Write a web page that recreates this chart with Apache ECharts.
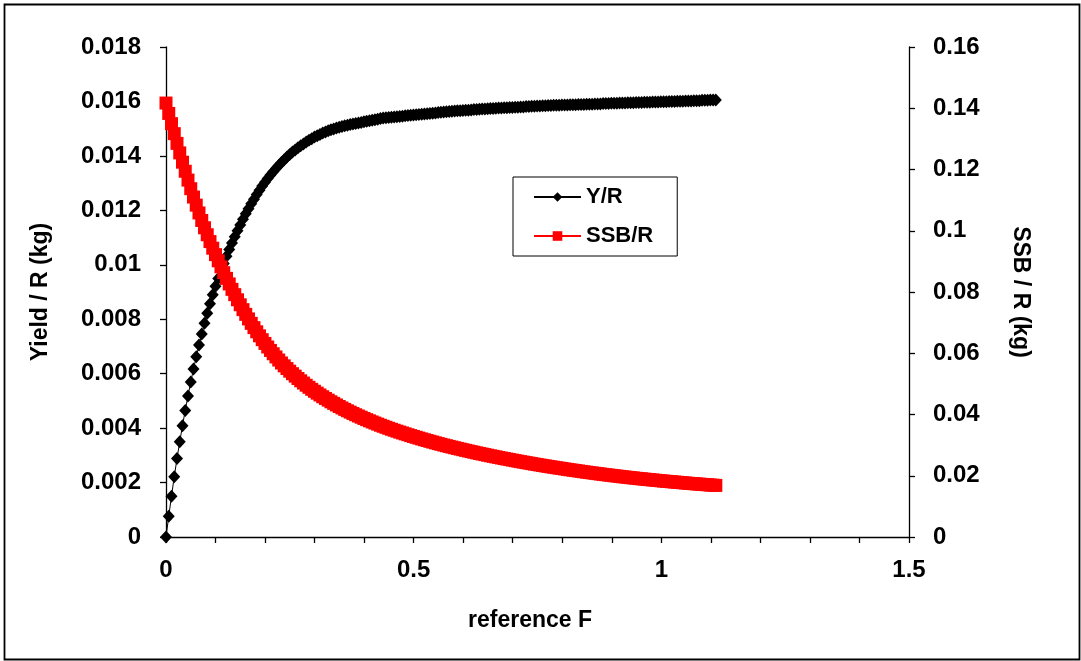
<!DOCTYPE html>
<html>
<head>
<meta charset="utf-8">
<script src="https://cdn.jsdelivr.net/npm/echarts@6/dist/echarts.min.js"></script>
<style>
html,body{margin:0;padding:0;background:#fff;}
#chart{width:1081px;height:661px;}
</style>
</head>
<body>
<div id="chart"></div>
<script>
// reference F values (x)
const refF = [0,0.00555,0.0111,0.01665,0.0222,0.02775,0.0333,0.03885,0.0444,0.04995,0.0555,0.06105,0.0666,0.07215,0.0777,0.08325,0.0888,0.09435,0.0999,0.10545,0.111,0.11655,0.1221,0.12765,0.1332,0.13875,0.1443,0.14985,0.1554,0.16095,0.1665,0.17205,0.1776,0.18315,0.1887,0.19425,0.1998,0.20535,0.2109,0.21645,0.222,0.22755,0.2331,0.23865,0.2442,0.24975,0.2553,0.26085,0.2664,0.27195,0.2775,0.28305,0.2886,0.29415,0.2997,0.30525,0.3108,0.31635,0.3219,0.32745,0.333,0.33855,0.3441,0.34965,0.3552,0.36075,0.3663,0.37185,0.3774,0.38295,0.3885,0.39405,0.3996,0.40515,0.4107,0.41625,0.4218,0.42735,0.4329,0.43845,0.444,0.44955,0.4551,0.46065,0.4662,0.47175,0.4773,0.48285,0.4884,0.49395,0.4995,0.50505,0.5106,0.51615,0.5217,0.52725,0.5328,0.53835,0.5439,0.54945,0.555,0.56055,0.5661,0.57165,0.5772,0.58275,0.5883,0.59385,0.5994,0.60495,0.6105,0.61605,0.6216,0.62715,0.6327,0.63825,0.6438,0.64935,0.6549,0.66045,0.666,0.67155,0.6771,0.68265,0.6882,0.69375,0.6993,0.70485,0.7104,0.71595,0.7215,0.72705,0.7326,0.73815,0.7437,0.74925,0.7548,0.76035,0.7659,0.77145,0.777,0.78255,0.7881,0.79365,0.7992,0.80475,0.8103,0.81585,0.8214,0.82695,0.8325,0.83805,0.8436,0.84915,0.8547,0.86025,0.8658,0.87135,0.8769,0.88245,0.888,0.89355,0.8991,0.90465,0.9102,0.91575,0.9213,0.92685,0.9324,0.93795,0.9435,0.94905,0.9546,0.96015,0.9657,0.97125,0.9768,0.98235,0.9879,0.99345,0.999,1.00455,1.0101,1.01565,1.0212,1.02675,1.0323,1.03785,1.0434,1.04895,1.0545,1.06005,1.0656,1.07115,1.0767,1.08225,1.0878,1.09335,1.0989,1.10445,1.11];

// Yield per recruit (kg)
const yieldR = [0,0.00076,0.00150,0.00221,0.00288,0.00350,0.00409,0.00465,0.00518,0.00569,0.00617,0.00662,0.00705,0.00746,0.00785,0.00822,0.00857,0.00890,0.00921,0.00950,0.00978,0.01005,0.01031,0.01056,0.01080,0.01103,0.01125,0.01146,0.01167,0.01187,0.01206,0.01224,0.01241,0.01258,0.01274,0.01289,0.01303,0.01317,0.01330,0.01342,0.01354,0.01365,0.01376,0.01386,0.01396,0.01405,0.01414,0.01422,0.01430,0.01437,0.01444,0.01451,0.01457,0.01463,0.01469,0.01474,0.01479,0.01484,0.01488,0.01492,0.01496,0.01499,0.01502,0.01505,0.01508,0.01511,0.01513,0.01515,0.01517,0.01519,0.01521,0.01523,0.01525,0.01527,0.01529,0.01531,0.01533,0.01535,0.01537,0.01539,0.01540,0.01541,0.01542,0.01543,0.01544,0.01545,0.01546,0.01547,0.01548,0.01549,0.01550,0.01551,0.01552,0.01553,0.01554,0.01555,0.01556,0.01557,0.01558,0.01559,0.01560,0.01561,0.01562,0.01563,0.01564,0.01565,0.01566,0.01566,0.01567,0.01568,0.01568,0.01569,0.01570,0.01570,0.01571,0.01572,0.01572,0.01573,0.01574,0.01574,0.01575,0.01576,0.01576,0.01577,0.01577,0.01578,0.01578,0.01579,0.01579,0.01580,0.01580,0.01581,0.01581,0.01582,0.01582,0.01583,0.01583,0.01584,0.01584,0.01585,0.01585,0.01586,0.01586,0.01586,0.01587,0.01587,0.01587,0.01588,0.01588,0.01588,0.01589,0.01589,0.01589,0.01590,0.01590,0.01590,0.01591,0.01591,0.01591,0.01592,0.01592,0.01592,0.01593,0.01593,0.01593,0.01594,0.01594,0.01594,0.01595,0.01595,0.01595,0.01596,0.01596,0.01596,0.01597,0.01597,0.01597,0.01598,0.01598,0.01598,0.01599,0.01599,0.01599,0.01600,0.01600,0.01600,0.01601,0.01601,0.01601,0.01602,0.01602,0.01602,0.01603,0.01603,0.01603,0.01604,0.01604,0.01604,0.01605,0.01605,0.01605];

// Spawning stock biomass per recruit (kg)
const ssbR = [0.14170,0.13830,0.13497,0.13171,0.12853,0.12542,0.12239,0.11943,0.11654,0.11373,0.11100,0.10836,0.10581,0.10335,0.10098,0.09869,0.09646,0.09430,0.09221,0.09018,0.08822,0.08631,0.08445,0.08263,0.08086,0.07914,0.07746,0.07583,0.07424,0.07270,0.07121,0.06976,0.06836,0.06700,0.06569,0.06443,0.06321,0.06204,0.06092,0.05984,0.05880,0.05779,0.05682,0.05589,0.05500,0.05415,0.05333,0.05253,0.05175,0.05100,0.05027,0.04956,0.04888,0.04822,0.04758,0.04697,0.04638,0.04580,0.04524,0.04469,0.04415,0.04363,0.04312,0.04262,0.04214,0.04167,0.04121,0.04077,0.04034,0.03992,0.03951,0.03911,0.03871,0.03832,0.03794,0.03757,0.03721,0.03685,0.03650,0.03616,0.03583,0.03550,0.03518,0.03487,0.03456,0.03426,0.03397,0.03368,0.03339,0.03311,0.03283,0.03256,0.03229,0.03202,0.03176,0.03150,0.03125,0.03100,0.03075,0.03051,0.03027,0.03004,0.02981,0.02958,0.02936,0.02914,0.02892,0.02871,0.02850,0.02829,0.02808,0.02788,0.02768,0.02748,0.02728,0.02709,0.02690,0.02671,0.02652,0.02634,0.02616,0.02598,0.02580,0.02562,0.02545,0.02528,0.02511,0.02494,0.02477,0.02461,0.02445,0.02429,0.02413,0.02397,0.02381,0.02366,0.02351,0.02336,0.02321,0.02306,0.02292,0.02278,0.02264,0.02250,0.02236,0.02222,0.02208,0.02195,0.02182,0.02169,0.02156,0.02143,0.02130,0.02117,0.02105,0.02093,0.02081,0.02069,0.02057,0.02045,0.02034,0.02023,0.02012,0.02001,0.01990,0.01979,0.01968,0.01958,0.01948,0.01938,0.01928,0.01918,0.01908,0.01899,0.01890,0.01881,0.01872,0.01863,0.01854,0.01845,0.01836,0.01827,0.01819,0.01811,0.01803,0.01795,0.01787,0.01779,0.01771,0.01763,0.01755,0.01747,0.01740,0.01733,0.01726,0.01719,0.01712,0.01705,0.01698,0.01691,0.01684];

const seriesNames = ['Y/R', 'SSB/R'];
const axisNames = { x: 'reference F', yLeft: 'Yield / R (kg)', yRight: 'SSB / R (kg)' };

const FONT = '"Liberation Sans", Arial, sans-serif';
const yData = refF.map((f, i) => [f, yieldR[i]]);
const sData = refF.map((f, i) => [f, ssbR[i]]);

const chart = echarts.init(document.getElementById('chart'), null, { renderer: 'canvas' });
const lbl = { color: '#000', fontFamily: FONT, fontWeight: 'bold', fontSize: 24 };
const nameStyle = { color: '#000', fontFamily: FONT, fontWeight: 'bold', fontSize: 23 };
const axLine = { show: true, lineStyle: { color: '#000', width: 1.3 } };
const tick = { show: true, inside: false, length: 6, lineStyle: { color: '#000', width: 1.3 } };

chart.setOption({
  animation: false,
  backgroundColor: '#fff',
  graphic: [{
    type: 'rect', left: 2, top: 2, z: 100, silent: true,
    shape: { width: 1075, height: 655 },
    style: { fill: 'none', stroke: '#000', lineWidth: 1.8 }
  }],
  grid: { left: 166, right: 172, top: 47, bottom: 124, containLabel: false },
  legend: {
    orient: 'vertical', left: 513, top: 177,
    borderColor: '#000', borderWidth: 1,
    padding: [9, 24, 9, 20], itemGap: 17,
    itemWidth: 47, itemHeight: 12, itemTextGap: 6,
    textStyle: { color: '#000', fontFamily: FONT, fontWeight: 'bold', fontSize: 22 },
    data: seriesNames
  },
  xAxis: {
    type: 'value', min: 0, max: 1.5, interval: 0.5,
    name: axisNames.x, nameLocation: 'middle', nameGap: 72,
    nameTextStyle: Object.assign({ padding: [0, 15, 0, 0] }, nameStyle),
    axisLine: axLine, axisTick: tick,
    minorTick: { show: true, splitNumber: 5, length: 6, lineStyle: { color: '#000', width: 1.3 } },
    splitLine: { show: false },
    axisLabel: Object.assign({ margin: 21 }, lbl)
  },
  yAxis: [{
    type: 'value', min: 0, max: 0.018, interval: 0.002, position: 'left',
    name: axisNames.yLeft, nameLocation: 'middle', nameGap: 114, nameRotate: 90,
    nameTextStyle: nameStyle,
    axisLine: axLine, axisTick: tick, splitLine: { show: false },
    axisLabel: Object.assign({ margin: 25 }, lbl)
  }, {
    type: 'value', min: 0, max: 0.16, interval: 0.02, position: 'right',
    name: axisNames.yRight, nameLocation: 'middle', nameGap: 100, nameRotate: -90,
    nameTextStyle: nameStyle,
    axisLine: axLine, axisTick: tick, splitLine: { show: false },
    axisLabel: Object.assign({ margin: 24 }, lbl)
  }],
  series: [{
    name: seriesNames[0], type: 'line', yAxisIndex: 0, data: yData,
    symbol: 'diamond', symbolSize: [12, 13], showAllSymbol: true,
    lineStyle: { color: '#000', width: 1 },
    itemStyle: { color: '#000', borderWidth: 0 },
    z: 2
  }, {
    name: seriesNames[1], type: 'line', yAxisIndex: 1, data: sData,
    symbol: 'rect', symbolSize: 13, showAllSymbol: true,
    lineStyle: { color: '#ff0000', width: 1 },
    itemStyle: { color: '#ff0000', borderWidth: 0 },
    z: 3
  }]
});
</script>
</body>
</html>
